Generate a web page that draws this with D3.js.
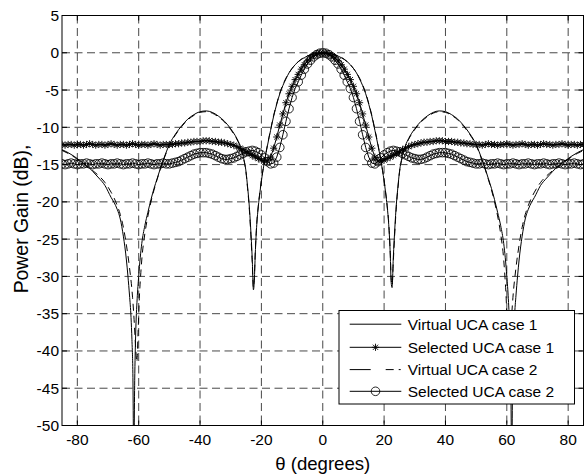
<!DOCTYPE html>
<html>
<head>
<meta charset="utf-8">
<script src="https://cdn.jsdelivr.net/npm/d3@7/dist/d3.min.js"></script>
<style>
  html, body { margin: 0; padding: 0; background: #fff; }
  svg { display: block; }
  text { font-family: "Liberation Sans", Arial, Helvetica, sans-serif; fill: #000; }
</style>
</head>
<body>
<svg id="chart" width="584" height="476"></svg>
<script>
// Axis ticks
const xTicks = [-80, -60, -40, -20, 0, 20, 40, 60, 80];
const yTicks = [5, 0, -5, -10, -15, -20, -25, -30, -35, -40, -45, -50];

// Legend labels
const seriesNames = ["Virtual UCA case 1", "Selected UCA case 1", "Virtual UCA case 2", "Selected UCA case 2"];

// Virtual UCA case 1 : angle (deg) and power gain (dB)
const virtual1Theta = [
  -85,-83,-81,-79,-77,-75,-73,-71,-69,-68,-67,-66,-65,-64,
  -63.5,-63,-62.5,-62.2,-61.9,-61.6,-61.3,-61,-60.5,-60,-59.5,-59,
  -58,-57,-56,-55,-54,-53,-52,-51,-50,
  -48,-46,-44,-42,-40,-38,-36,-34,-32,-30,-28,-27,-26,-25,
  -24.5,-24,-23.5,-23,-22.6,-22.3,-22,-21.5,-21,-20.5,-20,
  -19,-18,-17,-16,-15,-14,-13,-12,-11,-10,-9,-8,-6,-4,-2,0,
  2,4,6,8,9,10,11,12,13,14,15,16,17,18,19,20,
  20.5,21,21.5,22,22.3,22.6,23,23.5,24,24.5,25,
  26,27,28,30,32,34,36,38,40,42,44,46,48,50,
  51,52,53,54,55,56,57,58,
  59,59.5,60,60.5,61,61.3,61.6,61.9,62.2,62.5,63,63.5,64,
  65,66,67,68,69,71,73,75,77,79,81,83,85
];
const virtual1Gain = [
  -13.0,-13.4,-13.9,-14.5,-15.1,-15.9,-16.8,-17.8,-19.4,-20.1,-21.0,-22.3,-24.6,-27.8,
  -30.0,-32.5,-35.5,-38.5,-43,-55,-44,-38,-33,-30,-27.5,-25.6,
  -23.2,-21.4,-19.7,-18.2,-16.9,-15.6,-14.4,-13.3,-12.3,
  -10.9,-9.8,-8.9,-8.3,-7.9,-7.8,-8.0,-8.5,-9.2,-10.2,-11.5,-12.4,-13.8,-16.0,
  -18.0,-20.3,-23.5,-27.5,-31.8,-30.5,-27.0,-23.0,-20.6,-18.8,-17.2,
  -14.6,-12.4,-10.4,-8.5,-6.9,-5.5,-4.4,-3.5,-2.7,-2.1,-1.6,-1.2,-0.65,-0.28,-0.07,0,
  -0.07,-0.28,-0.65,-1.2,-1.6,-2.1,-2.7,-3.5,-4.4,-5.5,-6.9,-8.5,-10.4,-12.4,-14.6,-17.2,
  -18.8,-20.6,-23.0,-27.0,-30.8,-31.5,-27.5,-23.5,-20.3,-18.0,-16.0,
  -13.8,-12.4,-11.5,-10.2,-9.2,-8.5,-8.0,-7.8,-7.9,-8.3,-8.9,-9.8,-10.9,-12.3,
  -13.3,-14.4,-15.6,-16.9,-18.2,-19.7,-21.4,-23.2,
  -25.6,-27.5,-30,-33,-38,-44,-55,-43,-38.5,-35.5,-32.5,-30.0,-27.8,
  -24.6,-22.3,-21.0,-20.1,-19.4,-17.8,-16.8,-15.9,-15.1,-14.5,-13.9,-13.4,-13.0
];

// Virtual UCA case 2 : angle (deg) and power gain (dB)
const virtual2Theta = [
  -85,-83,-81,-79,-77,-75,-73,-71,-69,-68,-67,-66,-65,-64,-63,-62,
  -61.5,-61,-60.6,-60.2,-59.8,-59.3,-59,
  -58,-57,-56,-55,-54,-53,-52,-51,-50,
  -48,-46,-44,-42,-40,-38,-36,-34,-32,-30,-28,-27,-26,-25,
  -24.5,-24,-23.5,-23,-22.6,-22.3,-22,-21.5,-21,-20.5,-20,
  -19,-18,-17,-16,-15,-14,-13,-12,-11,-10,-9,-8,-6,-4,-2,0,
  2,4,6,8,9,10,11,12,13,14,15,16,17,18,19,20,
  20.5,21,21.5,22,22.3,22.6,23,23.5,24,24.5,25,
  26,27,28,30,32,34,36,38,40,42,44,46,48,50,
  51,52,53,54,55,56,57,58,59,
  59.3,59.8,60.2,60.6,61,61.5,
  62,63,64,65,66,67,68,69,71,73,75,77,79,81,83,85
];
const virtual2Gain = [
  -13.1,-13.5,-14.0,-14.6,-15.2,-15.8,-16.5,-17.4,-18.7,-19.5,-20.5,-21.7,-23.4,-25.8,-28.8,-32.8,
  -35.8,-39.5,-41.5,-37.5,-33.0,-29.5,-27.8,
  -24.3,-21.9,-20.0,-18.4,-17.0,-15.7,-14.5,-13.4,-12.4,
  -11.0,-9.9,-9.0,-8.4,-8.0,-7.9,-8.1,-8.6,-9.3,-10.3,-11.6,-12.5,-13.9,-16.1,
  -18.2,-20.6,-24.0,-28.0,-31.5,-30.0,-26.8,-22.8,-20.5,-18.7,-17.1,
  -14.5,-12.3,-10.3,-8.4,-6.8,-5.4,-4.3,-3.4,-2.7,-2.1,-1.6,-1.2,-0.6,-0.27,-0.07,0,
  -0.07,-0.27,-0.6,-1.2,-1.6,-2.1,-2.7,-3.4,-4.3,-5.4,-6.8,-8.4,-10.3,-12.3,-14.5,-17.1,
  -18.7,-20.5,-22.8,-26.8,-30.2,-31.2,-28.0,-24.0,-20.6,-18.2,-16.1,
  -13.9,-12.5,-11.6,-10.3,-9.3,-8.6,-8.1,-7.9,-8.0,-8.4,-9.0,-9.9,-11.0,-12.4,
  -13.4,-14.5,-15.7,-17.0,-18.4,-20.0,-21.9,-24.3,-27.8,
  -29.5,-33.0,-37.5,-41.0,-39.5,-35.8,
  -32.8,-28.8,-25.8,-23.4,-21.7,-20.5,-19.5,-18.7,-17.4,-16.5,-15.8,-15.2,-14.6,-14.0,-13.5,-13.1
];

// Selected UCA cases are sampled every degree from -85 to 85
const selectedTheta = d3.range(-85, 86, 1);

const selected1Gain = [
  -12.3,-12.4,-12.3,-12.3,-12.4,-12.3,-12.3,-12.4,-12.3,-12.2,
  -12.3,-12.4,-12.3,-12.3,-12.4,-12.3,-12.2,-12.3,-12.4,-12.3,
  -12.3,-12.4,-12.3,-12.2,-12.3,-12.4,-12.3,-12.3,-12.4,-12.3,
  -12.2,-12.3,-12.4,-12.3,-12.3,
  -12.3,-12.3,-12.2,-12.2,-12.1,-12.1,-12.0,-12.0,-11.9,-11.9,
  -11.9,-11.8,-11.8,-11.8,-11.9,-11.9,-12.0,-12.0,-12.1,-12.2,
  -12.3,-12.4,-12.6,-12.8,-13.0,-13.3,-13.5,-13.8,-14.0,-14.2,
  -14.4,-14.5,-14.5,-14.0,-12.8,-11.3,-9.7,-8.2,-6.7,-5.5,
  -4.5,-3.6,-2.9,-2.2,-1.6,-1.1,-0.7,-0.4,-0.17,-0.04,
  0,
  -0.04,-0.17,-0.4,-0.7,-1.1,-1.6,-2.2,-2.9,-3.6,-4.5,
  -5.5,-6.7,-8.2,-9.7,-11.3,-12.8,-14.0,-14.5,-14.5,-14.4,
  -14.2,-14.0,-13.8,-13.5,-13.3,-13.0,-12.8,-12.6,-12.4,-12.3,
  -12.2,-12.1,-12.0,-12.0,-11.9,-11.9,-11.8,-11.8,-11.8,-11.9,
  -11.9,-11.9,-12.0,-12.0,-12.1,-12.1,-12.2,-12.2,-12.3,-12.3,
  -12.3,-12.4,-12.3,-12.2,-12.3,-12.3,-12.4,-12.3,-12.3,-12.2,
  -12.3,-12.4,-12.3,-12.3,-12.2,-12.3,-12.4,-12.3,-12.3,-12.4,
  -12.3,-12.2,-12.3,-12.3,-12.4,-12.3,-12.3,-12.2,-12.3,-12.4,
  -12.3,-12.3,-12.4,-12.3,-12.3
];

const selected2Gain = [
  -14.9,-15.0,-14.9,-14.8,-14.9,-15.0,-14.9,-14.9,-14.8,-14.9,
  -15.0,-14.9,-14.9,-14.8,-14.9,-15.0,-14.9,-14.9,-14.8,-14.9,
  -15.0,-14.9,-14.9,-14.8,-14.9,-15.0,-14.9,-14.9,-14.8,-14.9,
  -15.0,-14.9,-14.9,-14.8,-14.9,
  -14.9,-14.8,-14.7,-14.6,-14.4,-14.2,-14.0,-13.8,-13.6,-13.5,
  -13.4,-13.4,-13.4,-13.5,-13.6,-13.8,-14.0,-14.2,-14.3,-14.3,
  -14.2,-14.1,-13.9,-13.7,-13.5,-13.3,-13.2,-13.1,-13.2,-13.4,
  -13.7,-14.1,-14.6,-14.9,-14.8,-14.0,-12.7,-11.0,-9.2,-7.5,
  -6.0,-4.8,-3.9,-3.0,-2.2,-1.5,-1.0,-0.55,-0.25,-0.06,
  0,
  -0.06,-0.25,-0.55,-1.0,-1.5,-2.2,-3.0,-3.9,-4.8,-6.0,
  -7.5,-9.2,-11.0,-12.7,-14.0,-14.8,-14.9,-14.6,-14.1,-13.7,
  -13.4,-13.2,-13.1,-13.2,-13.3,-13.5,-13.7,-13.9,-14.1,-14.2,
  -14.3,-14.3,-14.2,-14.0,-13.8,-13.6,-13.5,-13.4,-13.4,-13.4,
  -13.5,-13.6,-13.8,-14.0,-14.2,-14.4,-14.6,-14.7,-14.8,-14.9,
  -14.9,-14.8,-14.9,-15.0,-14.9,-14.9,-14.8,-14.9,-15.0,-14.9,
  -14.9,-14.8,-14.9,-15.0,-14.9,-14.9,-14.8,-14.9,-15.0,-14.9,
  -14.9,-14.8,-14.9,-15.0,-14.9,-14.9,-14.8,-14.9,-15.0,-14.9,
  -14.9,-14.8,-14.9,-15.0,-14.9
];

// ---- layout ----
const plot = { left: 62, right: 583.5, top: 15.5, bottom: 425.5 };
const svg = d3.select("#chart");

const x = d3.scaleLinear().domain([-85, 85]).range([plot.left, plot.right]);
const y = d3.scaleLinear().domain([-50, 5]).range([plot.bottom, plot.top]);

const zip = (xs, ys) => xs.map((t, i) => ({ t, g: ys[i] }));
const v1 = zip(virtual1Theta, virtual1Gain);
const v2 = zip(virtual2Theta, virtual2Gain);
const s1 = zip(selectedTheta, selected1Gain);
const s2 = zip(selectedTheta, selected2Gain);

svg.append("defs").append("clipPath").attr("id", "plotClip")
  .append("rect")
  .attr("x", plot.left).attr("y", plot.top)
  .attr("width", plot.right - plot.left).attr("height", plot.bottom - plot.top);

// dashed grid
const grid = svg.append("g").attr("stroke", "#333").attr("stroke-width", 0.9)
  .attr("stroke-dasharray", "8,4.5");
grid.selectAll("line.gx").data(xTicks).join("line")
  .attr("x1", d => x(d)).attr("x2", d => x(d))
  .attr("y1", plot.top).attr("y2", plot.bottom);
grid.selectAll("line.gy").data(yTicks.filter(d => d < 5 && d > -50)).join("line")
  .attr("x1", plot.left).attr("x2", plot.right)
  .attr("y1", d => y(d)).attr("y2", d => y(d));

// curves
const smooth = d3.line().x(d => x(d.t)).y(d => y(d.g)).curve(d3.curveMonotoneX);
const straight = d3.line().x(d => x(d.t)).y(d => y(d.g));
const curves = svg.append("g").attr("clip-path", "url(#plotClip)").attr("fill", "none");

curves.append("path").attr("d", smooth(v1))
  .attr("stroke", "#000").attr("stroke-width", 1);

curves.append("path").attr("d", smooth(v2))
  .attr("stroke", "#000").attr("stroke-width", 1).attr("stroke-dasharray", "7,5");

const starPath = "M-3.6,0L3.6,0M0,-3.6L0,3.6M-2.6,-2.6L2.6,2.6M-2.6,2.6L2.6,-2.6";

curves.append("path").attr("d", straight(s1))
  .attr("stroke", "#000").attr("stroke-width", 1);
curves.append("g").selectAll("path").data(s1).join("path")
  .attr("transform", d => `translate(${x(d.t)},${y(d.g)})`)
  .attr("d", starPath).attr("stroke", "#000").attr("stroke-width", 0.9);

curves.append("path").attr("d", straight(s2))
  .attr("stroke", "#000").attr("stroke-width", 1);
curves.append("g").selectAll("circle").data(s2).join("circle")
  .attr("cx", d => x(d.t)).attr("cy", d => y(d.g)).attr("r", 4.3)
  .attr("fill", "none").attr("stroke", "#000").attr("stroke-width", 0.85);

// axes box and inward ticks
const frame = svg.append("g").attr("stroke", "#000").attr("stroke-width", 1);
frame.append("rect")
  .attr("x", plot.left).attr("y", plot.top)
  .attr("width", plot.right - plot.left).attr("height", plot.bottom - plot.top)
  .attr("fill", "none");
const tl = 5;
xTicks.forEach(t => {
  frame.append("line").attr("x1", x(t)).attr("x2", x(t)).attr("y1", plot.bottom).attr("y2", plot.bottom - tl);
  frame.append("line").attr("x1", x(t)).attr("x2", x(t)).attr("y1", plot.top).attr("y2", plot.top + tl);
});
yTicks.forEach(t => {
  frame.append("line").attr("x1", plot.left).attr("x2", plot.left + tl).attr("y1", y(t)).attr("y2", y(t));
  frame.append("line").attr("x1", plot.right).attr("x2", plot.right - tl).attr("y1", y(t)).attr("y2", y(t));
});

// tick labels
svg.append("g").selectAll("text").data(xTicks).join("text")
  .attr("x", d => x(d)).attr("y", 445)
  .attr("text-anchor", "middle").attr("font-size", 15.5)
  .text(d => d);
svg.append("g").selectAll("text").data(yTicks).join("text")
  .attr("x", 59).attr("y", d => y(d) + 5.5)
  .attr("text-anchor", "end").attr("font-size", 15.5)
  .text(d => d);

// axis titles
svg.append("text").attr("x", (plot.left + plot.right) / 2).attr("y", 470)
  .attr("text-anchor", "middle").attr("font-size", 18.6)
  .text("θ (degrees)");
svg.append("text")
  .attr("transform", "translate(28,219) rotate(-90)")
  .attr("text-anchor", "middle").attr("font-size", 19.4)
  .text("Power Gain (dB),");

// legend
const lg = { left: 339, right: 574.5, top: 310.5, bottom: 404 };
const legend = svg.append("g");
legend.append("rect")
  .attr("x", lg.left).attr("y", lg.top)
  .attr("width", lg.right - lg.left).attr("height", lg.bottom - lg.top)
  .attr("fill", "#fff").attr("stroke", "#000").attr("stroke-width", 1);
const rowY = [324.2, 347.3, 369.6, 391.3];
const sx0 = 349.7, sx1 = 401.3, smid = (sx0 + sx1) / 2;
seriesNames.forEach((name, i) => {
  const ry = rowY[i];
  const ln = legend.append("line").attr("x1", sx0).attr("x2", sx1).attr("y1", ry).attr("y2", ry)
    .attr("stroke", "#000").attr("stroke-width", 1);
  if (i === 2) ln.attr("stroke-dasharray", "21,15,8,5,2,20");
  if (i === 1) legend.append("path").attr("transform", `translate(${smid},${ry})`)
    .attr("d", starPath).attr("stroke", "#000").attr("stroke-width", 0.9).attr("fill", "none");
  if (i === 3) legend.append("circle").attr("cx", smid).attr("cy", ry).attr("r", 4.3)
    .attr("fill", "none").attr("stroke", "#000").attr("stroke-width", 0.85);
  legend.append("text").attr("x", 407.7).attr("y", ry + 5.5)
    .attr("font-size", 15.5).text(name);
});
</script>
</body>
</html>
